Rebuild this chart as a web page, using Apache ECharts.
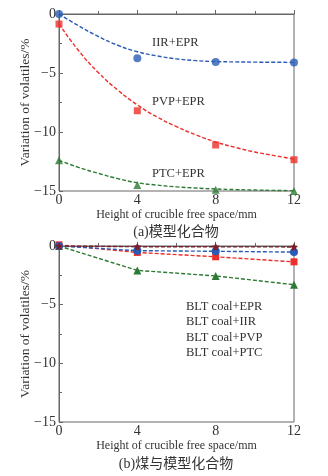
<!DOCTYPE html>
<html>
<head>
<meta charset="utf-8">
<script src="https://cdn.jsdelivr.net/npm/echarts@6/dist/echarts.min.js"></script>
<style>
  html, body { margin: 0; padding: 0; background: #fff; }
  #chart { width: 328px; height: 476px; }
</style>
</head>
<body>
<div id="chart"></div>
<script>
// x positions (mm)
var heights = [0, 4, 8, 12];
var fitX = [0, 1, 2, 3, 4, 5, 6, 7, 8, 9, 10, 11, 12];

// (a) model compounds - measured points
var iirEpr = [0, -3.75, -4.07, -4.1];
var pvpEpr = [-0.85, -8.2, -11.1, -12.35];
var ptcEpr = [-12.4, -14.5, -14.9, -15];

// (a) fitted curves
var iirFit = [0, -1.0, -1.9, -2.65, -3.2, -3.55, -3.8, -3.95, -4.03, -4.06, -4.08, -4.09, -4.1];
var pvpFit = [-0.85, -3.1, -4.95, -6.45, -7.7, -8.72, -9.55, -10.25, -10.85, -11.3, -11.7, -12.0, -12.3];
var ptcFit = [-12.4, -13.0, -13.5, -13.95, -14.3, -14.5, -14.65, -14.75, -14.83, -14.88, -14.92, -14.95, -14.97];

// (b) coal + model compounds
var coalEpr = [0, -0.06, -0.07, -0.08];
var coalIir = [0, -0.4, -0.45, -0.52];
var coalPvp = [0.1, -0.55, -0.92, -1.35];
var coalPtc = [0, -2.08, -2.55, -3.3];

var serif = '"Liberation Serif", "DejaVu Serif", serif';
var cjk = '"Liberation Serif", "Noto Sans CJK SC", serif';
var cBlue = '#2a5cb5', cRed = '#ec2f2a', cGreen = '#2d7a34', cDark = '#7a1e2c';
var star = 'path://M0,-10 L2.9,-4 9.5,-3.1 4.7,1.5 5.9,8.1 0,5 -5.9,8.1 -4.7,1.5 -9.5,-3.1 -2.9,-4Z';

function pairs(xs, ys) {
    return ys.map(function (v, i) { return [xs[i], v]; });
}

function minus(v) {
    return String(v).replace('-', '\u2212');
}

function xAxisFor(idx) {
    return {
        gridIndex: idx, type: 'value', min: 0, max: 12, interval: 4,
        name: 'Height of crucible free space/mm', nameLocation: 'middle', nameGap: 18,
        nameMoveOverlap: false,
        nameTextStyle: { fontFamily: serif, fontSize: 12, color: '#333' },
        axisLine: { lineStyle: { color: '#666', width: 1 } },
        axisTick: { inside: true, length: 4, lineStyle: { color: '#666' } },
        minorTick: { show: true, splitNumber: 2, length: 3, lineStyle: { color: '#666' } },
        axisLabel: { fontFamily: serif, fontSize: 14, color: '#333', margin: 2 },
        splitLine: { show: false }
    };
}

function yAxisFor(idx) {
    return {
        gridIndex: idx, type: 'value', min: -15, max: 0, interval: 5,
        name: 'Variation of volatiles/%', nameLocation: 'middle', nameGap: 27,
        nameMoveOverlap: false,
        nameTextStyle: { fontFamily: serif, fontSize: 13.5, color: '#333' },
        axisLine: { lineStyle: { color: '#666', width: 1 } },
        axisTick: { inside: true, length: 4, lineStyle: { color: '#666' } },
        minorTick: { show: true, splitNumber: 2, length: 3, lineStyle: { color: '#666' } },
        axisLabel: { fontFamily: serif, fontSize: 14, color: '#333', margin: 3, formatter: minus },
        splitLine: { show: false }
    };
}

function fitLine(name, data, color) {
    return {
        name: name, type: 'line', xAxisIndex: 0, yAxisIndex: 0,
        data: pairs(fitX, data), smooth: true, showSymbol: false, silent: true,
        lineStyle: { color: color, width: 1.4, type: [4, 2] }, clip: false, z: 2
    };
}

function points(name, data, color, symbol, size) {
    return {
        name: name, type: 'scatter', xAxisIndex: 0, yAxisIndex: 0,
        data: pairs(heights, data), symbol: symbol, symbolSize: size,
        itemStyle: { color: color }, clip: false, z: 3
    };
}

function coalLine(name, data, color, symbol, size) {
    return {
        name: name, type: 'line', xAxisIndex: 1, yAxisIndex: 1,
        data: pairs(heights, data), symbol: symbol, symbolSize: size, showAllSymbol: true,
        itemStyle: { color: color }, lineStyle: { color: color, width: 1.4, type: [4, 2] },
        clip: false
    };
}

var chart = echarts.init(document.getElementById('chart'), null, { renderer: 'canvas' });
chart.setOption({
    animation: false,
    backgroundColor: '#fff',
    grid: [
        { left: 59, top: 14, width: 235, height: 177, show: true, borderColor: '#666', borderWidth: 1 },
        { left: 59, top: 246, width: 235, height: 176, show: true, borderColor: '#666', borderWidth: 1 }
    ],
    xAxis: [xAxisFor(0), xAxisFor(1)],
    yAxis: [yAxisFor(0), yAxisFor(1)],
    legend: {
        data: ['BLT coal+EPR', 'BLT coal+IIR', 'BLT coal+PVP', 'BLT coal+PTC'],
        orient: 'vertical', left: 176, top: 295, icon: 'none',
        itemWidth: 0, itemHeight: 12, itemGap: 2.5,
        textStyle: { fontFamily: serif, fontSize: 12.5, color: '#333' },
        selectedMode: false
    },
    series: [
        fitLine('iirFit', iirFit, cBlue),
        fitLine('pvpFit', pvpFit, cRed),
        fitLine('ptcFit', ptcFit, cGreen),
        points('IIR+EPR', iirEpr, cBlue, 'circle', 8),
        points('PVP+EPR', pvpEpr, cRed, 'rect', 7),
        points('PTC+EPR', ptcEpr, cGreen, 'triangle', 8),
        coalLine('BLT coal+PTC', coalPtc, cGreen, 'triangle', 8),
        coalLine('BLT coal+PVP', coalPvp, cRed, 'rect', 7),
        coalLine('BLT coal+IIR', coalIir, cBlue, 'circle', 8),
        coalLine('BLT coal+EPR', coalEpr, cDark, star, 8)
    ],
    graphic: [
        { type: 'text', left: 152, top: 36, style: { text: 'IIR+EPR', font: '12.5px ' + serif, fill: '#333' } },
        { type: 'text', left: 152, top: 95, style: { text: 'PVP+EPR', font: '12.5px ' + serif, fill: '#333' } },
        { type: 'text', left: 152, top: 167, style: { text: 'PTC+EPR', font: '12.5px ' + serif, fill: '#333' } },
        { type: 'text', x: 176, y: 232, style: { text: '(a)模型化合物', font: '14px ' + cjk, fill: '#333', align: 'center', verticalAlign: 'middle' } },
        { type: 'text', x: 176, y: 464, style: { text: '(b)煤与模型化合物', font: '14px ' + cjk, fill: '#333', align: 'center', verticalAlign: 'middle' } }
    ]
});
</script>
</body>
</html>
